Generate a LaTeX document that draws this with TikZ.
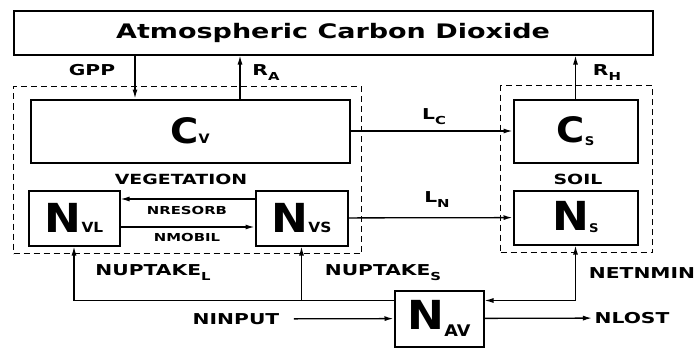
\documentclass[tikz,border=0pt]{standalone}
\usepackage{fontspec}
\newfontfamily\labfont{DejaVu Sans}[FakeStretch=1.35]
\newfontfamily\bigfont{DejaVu Sans}[FakeStretch=1.1]
\usetikzlibrary{arrows.meta}

% pool symbol: letter, size, subscript, subscript size, raise
\newcommand{\poolname}[5]{{\bigfont\bfseries\fontsize{#2}{#2}\selectfont #1}\raisebox{#5}{\bigfont\bfseries\fontsize{#4}{#4}\selectfont #3}}
% flux label with lowered subscript
\newcommand{\fluxname}[2]{#1\raisebox{-5pt}{\fontsize{11}{11}\selectfont #2}}

\begin{document}
\begin{tikzpicture}[
		x=1pt, y=-1pt,
		box/.style={draw, line width=2pt, inner sep=0pt},
		grp/.style={draw, line width=1.8pt, dash pattern=on 6pt off 4pt, inner sep=0pt},
		lab/.style={font=\labfont\bfseries\fontsize{15}{15}\selectfont, inner sep=2pt},
		small/.style={font=\labfont\bfseries\fontsize{11}{11}\selectfont, inner sep=1pt},
		>={Latex[length=9pt,width=5pt]}, line width=1.3pt
	]
	\useasboundingbox (0,0) rectangle (697,348);

	% groups
	\node[grp, minimum width=348, minimum height=167] (veg) at (187.5,170) {};
	\node[grp, minimum width=152, minimum height=167] (soil) at (576.5,169) {};

	\node[box, minimum width=639, minimum height=44, font=\labfont\bfseries\fontsize{20}{20}\selectfont] (atm) at (333,32.5) {Atmospheric Carbon Dioxide};

	\node[box, minimum width=319, minimum height=63] (cv) at (190,131) {\poolname{C}{35}{V}{13}{0pt}};
	\node[box, minimum width=91, minimum height=55] (nvl) at (74,218) {\poolname{N}{40}{VL}{14}{0pt}};
	\node[box, minimum width=92, minimum height=55] (nvs) at (301.5,218) {\poolname{N}{40}{VS}{14}{0pt}};

	\node[box, minimum width=124, minimum height=63] (cs) at (575.5,131) {\poolname{C}{35}{S}{12}{-3pt}};
	\node[box, minimum width=124, minimum height=54] (ns) at (575.5,217.5) {\poolname{N}{40}{S}{12}{-2pt}};

	\node[box, minimum width=89, minimum height=56] (nav) at (439,318.5) {\poolname{N}{40}{AV}{16}{-7pt}};

	\node[lab] (gpp) at (92,70) {GPP};
	\node[lab] (ra) at (266,73) {\fluxname{R}{A}};
	\node[lab] (rh) at (607,73) {\fluxname{R}{H}};
	\node[lab] (lc) at (434,117) {\fluxname{L}{C}};
	\node[lab] (ln) at (437,200) {\fluxname{L}{N}};
	\node[lab, font=\labfont\bfseries\fontsize{14}{14}\selectfont] (vegname) at (181,179) {VEGETATION};
	\node[lab, font=\labfont\bfseries\fontsize{14}{14}\selectfont] (soilname) at (578,179) {SOIL};
	\node[small] (nresorb) at (187,210) {NRESORB};
	\node[small] (nmobil) at (187,237) {NMOBIL};
	\node[lab] (uptl) at (153,273) {\fluxname{NUPTAKE}{L}};
	\node[lab] (upts) at (383,273) {\fluxname{NUPTAKE}{S}};
	\node[lab] (netnmin) at (642,273) {NETNMIN};
	\node[lab] (ninput) at (236,319) {NINPUT};
	\node[lab] (nlost) at (632,318) {NLOST};

	\coordinate (gppx) at (135,0);
	\coordinate (rax) at (240,0);
	\coordinate (upj) at ([yshift=-11pt]nav.north west);
	\coordinate (mnj) at ([yshift=-11pt]nav.north east);

	\draw[->] (atm.south -| gppx) -- (cv.north -| gppx);
	\draw[->] (cv.north -| rax) -- (atm.south -| rax);
	\draw[->] (cs.north) -- (atm.south -| cs.north);

	\draw[->] (cv) -- (cs);
	\draw[->] (nvs) -- (ns);

	\draw[->] ([yshift=19pt]nvs.west) -- ([yshift=19pt]nvl.east);
	\draw[->] ([yshift=-9pt]nvl.east) -- ([yshift=-9pt]nvs.west);

	\draw[->] (upj) -| (nvl.south);
	\draw[->] (upj -| nvs.south) -- (nvs.south);
	\draw[<->] (mnj) -| (ns.south);

	\draw[->, shorten <=12pt] (ninput) -- (nav);
	\draw[->] (nav) -- (nlost);
\end{tikzpicture}
\end{document}
